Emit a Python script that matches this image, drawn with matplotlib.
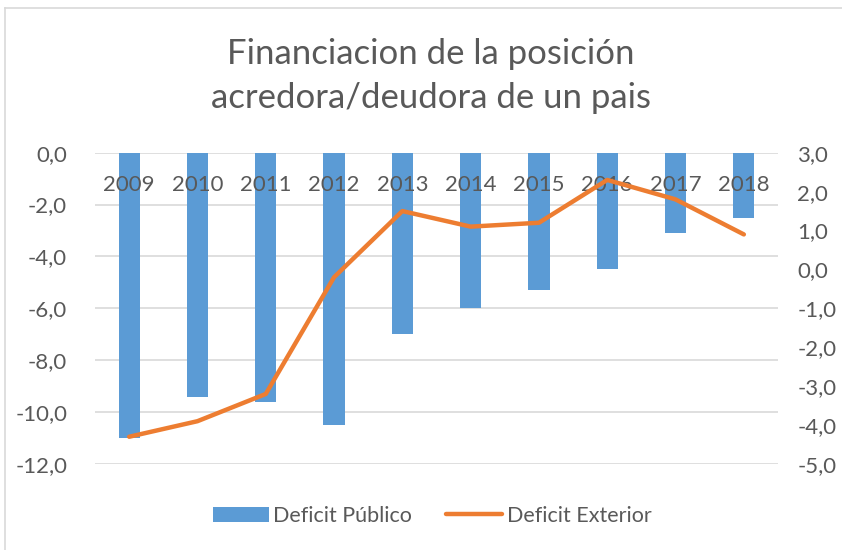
import numpy as np
import matplotlib
matplotlib.use('Agg')
import matplotlib.pyplot as plt
from matplotlib.lines import Line2D
from matplotlib.ticker import FuncFormatter
from matplotlib.transforms import blended_transform_factory

plt.rcParams['font.family'] = ['Lato', 'DejaVu Sans']

# Data
years = ['2009', '2010', '2011', '2012', '2013', '2014', '2015', '2016', '2017', '2018']
deficit_publico = [-11.0, -9.4, -9.6, -10.5, -7.0, -6.0, -5.3, -4.5, -3.1, -2.5]
deficit_exterior = [-4.3, -3.9, -3.2, -0.2, 1.5, 1.1, 1.2, 2.3, 1.8, 0.9]
left_ticks = [0, -2, -4, -6, -8, -10, -12]
right_ticks = [3, 2, 1, 0, -1, -2, -3, -4, -5]

blue = '#5B9BD5'
orange = '#ED7D31'
grey_text = '#595959'
grid_col = '#D9D9D9'

fig = plt.figure(figsize=(8.42, 5.5), dpi=100)
ax = fig.add_axes([95 / 842, 1 - 464 / 550, 683 / 842, (464 - 152.7) / 550])
ax2 = ax.twinx()

x = np.arange(len(years))
ax.bar(x, deficit_publico, width=0.31, color=blue, label='Deficit Público', zorder=2)
ax2.plot(x, deficit_exterior, color=orange, linewidth=3.2, solid_capstyle='round',
         label='Deficit Exterior', zorder=3)

ax.set_xlim(-0.5, len(years) - 0.5)
ax.set_ylim(-12, 0)
ax2.set_ylim(-5, 3)
ax.set_yticks(left_ticks)
ax2.set_yticks(right_ticks)
fmt = FuncFormatter(lambda v, p: ('%.1f' % v).replace('.', ','))
ax.yaxis.set_major_formatter(fmt)
ax2.yaxis.set_major_formatter(fmt)

ax.grid(axis='y', color=grid_col, linewidth=1.2, zorder=0)
ax.set_axisbelow(True)
for a in (ax, ax2):
    for s in a.spines.values():
        s.set_visible(False)
    a.tick_params(length=0, labelsize=16, colors=grey_text)
ax.tick_params(axis='y', pad=20)
ax2.tick_params(axis='y', pad=14)
ax.set_xticks([])

# category labels sit just under the zero line, drawn over the bars
trans = blended_transform_factory(ax.transData, ax.transAxes)
for xi, yr in zip(x, years):
    ax.text(xi, 1 - 32 / 311, yr, transform=trans, ha='center', va='center',
            fontsize=16, color=grey_text, zorder=5)

fig.text(431 / 842, 1 - 76 / 550, 'Financiacion de la posición\nacredora/deudora de un pais',
         ha='center', va='center', fontsize=25, color=grey_text, linespacing=1.45)

h1, l1 = ax.get_legend_handles_labels()
h2, l2 = ax2.get_legend_handles_labels()
fig.legend(h1 + h2, l1 + l2, loc='center', bbox_to_anchor=(432 / 842, 1 - 516 / 550),
           ncol=2, frameon=False, fontsize=15.5, labelcolor=grey_text,
           handlelength=2.6, handleheight=0.7, handletextpad=0.2, columnspacing=1.6)

# chart-area border (only top and left edges show in the crop)
fig.add_artist(Line2D([5 / 842, 1], [1 - 8 / 550, 1 - 8 / 550], transform=fig.transFigure,
                      color=grid_col, linewidth=1.2))
fig.add_artist(Line2D([5 / 842, 5 / 842], [0, 1 - 8 / 550], transform=fig.transFigure,
                      color=grid_col, linewidth=1.2))

fig.savefig('out.png', dpi=100)
